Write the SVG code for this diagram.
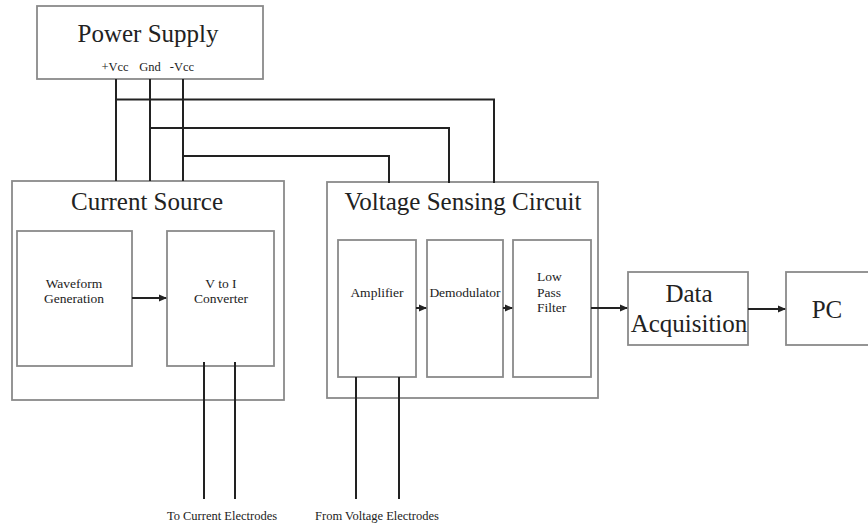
<svg xmlns="http://www.w3.org/2000/svg" width="868" height="527" viewBox="0 0 868 527">
<style>
.box{fill:#fff;stroke:#8a8a8a;stroke-width:1.8}
.w{fill:none;stroke:#222;stroke-width:2}
.a{fill:none;stroke:#222;stroke-width:2;marker-end:url(#ah)}
.tx{font-family:"Liberation Serif","DejaVu Serif",serif;fill:#222;text-anchor:middle}
.t1{font-size:25px}
.t2{font-size:13.5px}
.t3{font-size:12.5px}
</style>
<defs>
<marker id="ah" markerWidth="8" markerHeight="8" refX="7" refY="4" orient="auto" markerUnits="userSpaceOnUse">
<path d="M0,0.5 L8,4 L0,7.5 Z" fill="#222"/>
</marker>
</defs>
<rect width="868" height="527" fill="#fff"/>
<g class="tx" font-family="Liberation Serif, DejaVu Serif, serif">
<g id="power-supply">
<rect class="box" x="37" y="6" width="226" height="73"/>
<text class="t1" x="148" y="42">Power Supply</text>
<text class="t3" x="115" y="71">+Vcc</text>
<text class="t3" x="150" y="71">Gnd</text>
<text class="t3" x="182" y="71">-Vcc</text>
</g>
<g id="current-source">
<rect class="box" x="12" y="181" width="272" height="219"/>
<text class="t1" x="147" y="210">Current Source</text>
</g>
<g id="waveform-generation">
<rect class="box" x="17" y="231" width="115" height="135"/>
<text class="t2" x="74" y="288">Waveform</text>
<text class="t2" x="74" y="303">Generation</text>
</g>
<g id="v-to-i">
<rect class="box" x="167" y="231" width="107" height="135"/>
<text class="t2" x="221" y="288">V to I</text>
<text class="t2" x="221" y="303">Converter</text>
</g>
<g id="voltage-sensing">
<rect class="box" x="327" y="182" width="271" height="216"/>
<text class="t1" x="463" y="210">Voltage Sensing Circuit</text>
</g>
<g id="amplifier">
<rect class="box" x="338" y="240" width="78" height="137"/>
<text class="t2" x="377" y="297">Amplifier</text>
</g>
<g id="demodulator">
<rect class="box" x="427" y="240" width="76" height="137"/>
<text class="t2" x="465" y="297">Demodulator</text>
</g>
<g id="low-pass-filter">
<rect class="box" x="513" y="240" width="78" height="137"/>
<text class="t2" x="537" y="281" text-anchor="start" style="text-anchor:start">Low</text>
<text class="t2" x="537" y="297" text-anchor="start" style="text-anchor:start">Pass</text>
<text class="t2" x="537" y="312" text-anchor="start" style="text-anchor:start">Filter</text>
</g>
<g id="data-acquisition">
<rect class="box" x="628" y="272" width="120" height="73"/>
<text class="t1" x="689" y="302">Data</text>
<text class="t1" x="689" y="332">Acquisition</text>
</g>
<g id="pc">
<rect class="box" x="786" y="272" width="90" height="73"/>
<text class="t1" x="827" y="318">PC</text>
</g>
<g id="connectors">
<path class="w" d="M116,79 V181 M150,79 V181 M183,79 V181"/>
<path class="w" d="M116,99.5 H494 V183"/>
<path class="w" d="M150,128 H449 V183"/>
<path class="w" d="M183,156 H389 V183"/>
<path class="a" d="M132,298 H166"/>
<path class="a" d="M416,308 H426"/>
<path class="a" d="M503,308 H512"/>
<path class="a" d="M591,308 H627"/>
<path class="a" d="M748,309 H785"/>
<path class="w" d="M204,362 V499 M235,362 V499"/>
<path class="w" d="M356,377 V499 M399,377 V499"/>
</g>
<text class="t3" x="222" y="520">To Current Electrodes</text>
<text class="t3" x="377" y="520">From Voltage Electrodes</text>
</g>
</svg>
